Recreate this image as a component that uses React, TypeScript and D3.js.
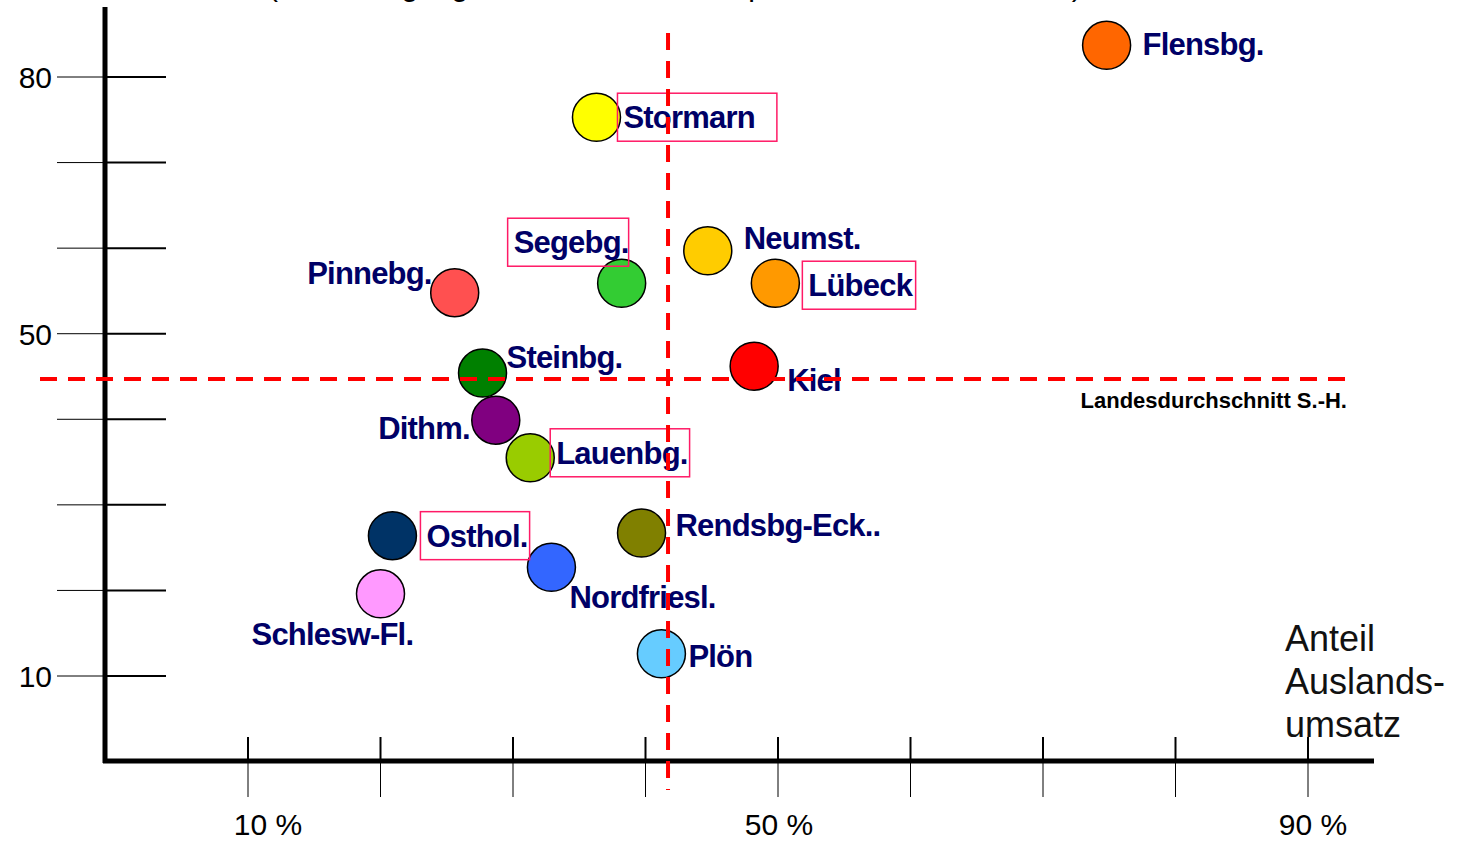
import React, { useEffect, useRef } from "react";
import * as d3 from "d3";

// Kreise / kreisfreie Staedte in Schleswig-Holstein
const districts = [
  "Flensbg.",
  "Stormarn",
  "Neumst.",
  "Lübeck",
  "Segebg.",
  "Pinnebg.",
  "Steinbg.",
  "Kiel",
  "Dithm.",
  "Lauenbg.",
  "Osthol.",
  "Rendsbg-Eck..",
  "Nordfriesl.",
  "Schlesw-Fl.",
  "Plön",
];
// Anteil Auslandsumsatz in %
const exportShare = [74.8, 36.3, 44.7, 49.8, 38.2, 25.6, 27.7, 48.2, 28.7, 31.3, 20.9, 39.7, 32.9, 20.0, 41.2];
// senkrechte Groesse
const yValues = [83.7, 75.3, 59.7, 55.9, 55.9, 54.8, 45.4, 46.2, 39.9, 35.5, 26.4, 26.7, 22.7, 19.6, 12.6];

const averageX = 41.7;
const averageY = 44.7;

const xTickValues = [10, 20, 30, 40, 50, 60, 70, 80, 90];
const xTickLabels = [10, 50, 90];
const yTickValues = [80, 70, 60, 50, 40, 30, 20, 10];
const yTickLabels = [80, 50, 10];

// styles
const bubbleColors = [
  "#ff6600", "#ffff00", "#ffcc00", "#ff9900", "#33cc33", "#ff5050", "#008000", "#ff0000",
  "#800080", "#99cc00", "#003366", "#808000", "#3366ff", "#ff99ff", "#66ccff",
];
// label offset from bubble centre: [dx, dy, anchor]
const labelPlacement: [number, number, string][] = [
  [36, 10, "start"],
  [27, 11, "start"],
  [36, -2, "start"],
  [33, 13, "start"],
  [-108, -30, "start"],
  [-23, -9, "end"],
  [24, -5, "start"],
  [33, 25, "start"],
  [-26, 19, "end"],
  [26, 6, "start"],
  [34, 11, "start"],
  [34, 3, "start"],
  [18, 41, "start"],
  [-129, 51, "start"],
  [27, 13, "start"],
];
const boxedLabels = ["Stormarn", "Segebg.", "Lübeck", "Lauenbg.", "Osthol."];

const W = 1461;
const H = 842;

const App = () => {
  const svgEl = useRef<SVGSVGElement | null>(null);

  useEffect(() => {
    if (!svgEl.current) return;
    drawChart(svgEl.current);
  }, [svgEl]);

  return (
    <svg
      ref={svgEl}
      width={W}
      height={H}
      style={{ position: "absolute", left: 0, top: 0, background: "#fff" }}
    ></svg>
  );
};

function drawChart(el: SVGSVGElement) {
  const svg = d3.select(el);
  svg.selectAll("*").remove();

  const x = d3.scaleLinear().domain([10, 90]).range([248, 1308]);
  const y = d3.scaleLinear().domain([10, 80]).range([676, 77]);
  const font = "'Liberation Sans', Arial, sans-serif";

  // title, cut off at the top edge
  svg
    .append("text")
    .attr("x", 268)
    .attr("y", -4)
    .attr("font-family", font)
    .attr("font-size", 30)
    .text("(Beschäftigung 1995 bis 2003 im Exportumsatz der Industrie)");

  // axes
  svg.append("line").attr("x1", 105).attr("x2", 105).attr("y1", 7).attr("y2", 763)
    .attr("stroke", "#000").attr("stroke-width", 5);
  svg.append("line").attr("x1", 103).attr("x2", 1374).attr("y1", 761).attr("y2", 761)
    .attr("stroke", "#000").attr("stroke-width", 5);

  // y ticks
  const yt = svg.append("g");
  yt.selectAll(".tl").data(yTickValues).join("line")
    .attr("x1", 57).attr("x2", 103).attr("y1", d => y(d)).attr("y2", d => y(d))
    .attr("stroke", "#000").attr("stroke-width", 1);
  yt.selectAll(".tr").data(yTickValues).join("line")
    .attr("x1", 107).attr("x2", 166).attr("y1", d => y(d)).attr("y2", d => y(d))
    .attr("stroke", "#000").attr("stroke-width", 2);
  yt.selectAll("text").data(yTickLabels).join("text")
    .attr("x", 52).attr("y", d => y(d) + 11)
    .attr("text-anchor", "end")
    .attr("font-family", font).attr("font-size", 30)
    .text(d => d);

  // x ticks
  const xt = svg.append("g");
  xt.selectAll(".tu").data(xTickValues).join("line")
    .attr("x1", d => x(d)).attr("x2", d => x(d)).attr("y1", 737).attr("y2", 759)
    .attr("stroke", "#000").attr("stroke-width", 2);
  xt.selectAll(".td").data(xTickValues).join("line")
    .attr("x1", d => x(d)).attr("x2", d => x(d)).attr("y1", 763).attr("y2", 797)
    .attr("stroke", "#000").attr("stroke-width", 1);
  xt.selectAll("text").data(xTickLabels).join("text")
    .attr("x", d => x(d) + (d === 10 ? 20 : d === 90 ? 5 : 1))
    .attr("y", 835)
    .attr("text-anchor", "middle")
    .attr("font-family", font).attr("font-size", 30)
    .text(d => d + " %");

  // axis title
  svg.append("text")
    .attr("x", 1285).attr("y", 651)
    .attr("font-family", font).attr("font-size", 36).attr("fill", "#111")
    .selectAll("tspan").data(["Anteil", "Auslands-", "umsatz"]).join("tspan")
    .attr("x", 1285).attr("dy", (_d, i) => (i === 0 ? 0 : 43))
    .text(d => d);

  const points = districts.map((name, i) => ({
    name,
    x: exportShare[i],
    y: yValues[i],
    color: bubbleColors[i],
    place: labelPlacement[i],
  }));

  // bubbles
  svg.append("g").selectAll("circle").data(points).join("circle")
    .attr("cx", d => x(d.x)).attr("cy", d => y(d.y)).attr("r", 24)
    .attr("fill", d => d.color)
    .attr("stroke", "#000").attr("stroke-width", 1.5);

  // labels
  const lg = svg.append("g");
  const labels = lg.selectAll("text").data(points).join("text")
    .attr("x", d => x(d.x) + d.place[0])
    .attr("y", d => y(d.y) + d.place[1])
    .attr("text-anchor", d => d.place[2])
    .attr("font-family", font).attr("font-size", 31).attr("font-weight", "bold")
    .attr("letter-spacing", -0.8)
    .attr("fill", "#000066")
    .text(d => d.name);

  labels.filter(d => boxedLabels.includes(d.name)).each(function (d) {
    const b = (this as SVGTextElement).getBBox();
    const cy = y(d.y) + d.place[1] - 11;
    lg.insert("rect", "text")
      .attr("x", b.x - 6)
      .attr("y", cy - 24)
      .attr("width", b.width + (d.name === "Stormarn" ? 28 : d.name === "Segebg." ? 6 : 8))
      .attr("height", 48)
      .attr("fill", "none")
      .attr("stroke", "#ff1a66")
      .attr("stroke-width", 1.5);
  });

  // Landesdurchschnitt
  const dash = "17,11";
  svg.append("line")
    .attr("x1", 40).attr("x2", 1356).attr("y1", y(averageY)).attr("y2", y(averageY))
    .attr("stroke", "#ff0000").attr("stroke-width", 4).attr("stroke-dasharray", dash);
  svg.append("line")
    .attr("x1", x(averageX)).attr("x2", x(averageX)).attr("y1", 33).attr("y2", 790)
    .attr("stroke", "#ff0000").attr("stroke-width", 4).attr("stroke-dasharray", dash);
  svg.append("text")
    .attr("x", 1347).attr("y", 408)
    .attr("text-anchor", "end")
    .attr("font-family", font).attr("font-size", 22).attr("font-weight", "bold")
    .text("Landesdurchschnitt S.-H.");
}

export default App;
